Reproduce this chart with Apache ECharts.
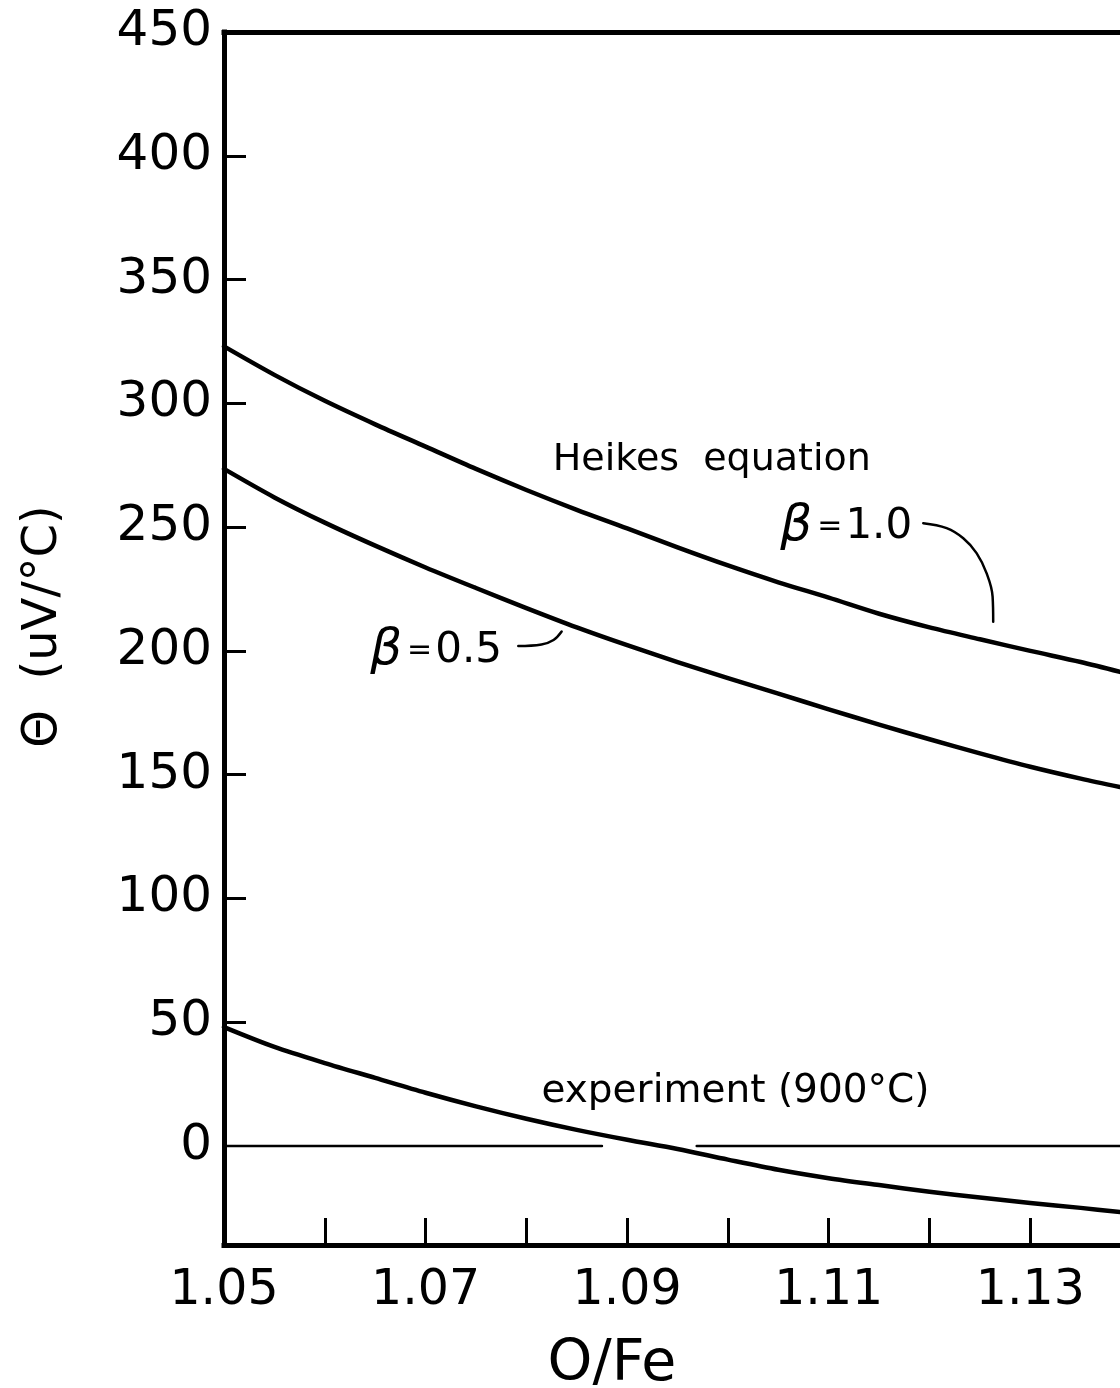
<!DOCTYPE html>
<html><head><meta charset="utf-8">
<script src="https://cdn.jsdelivr.net/npm/echarts@6/dist/echarts.min.js"></script>
<style>html,body{margin:0;padding:0;background:#fff}#c{width:1120px;height:1388px}</style>
</head><body><div id="c"></div>
<script>
// O/Fe sample positions (x)
const oFe = [1.050,1.055,1.060,1.065,1.070,1.075,1.080,1.085,1.090,1.095,1.100,1.105,1.110,1.115,1.120,1.125,1.130,1.135,1.1389];
// Heikes equation, beta = 1.0
const heikesBeta10 = [323,311.5,301,291.5,282.5,273.5,265,257,249.5,241.8,234.5,227.7,221.5,215,209.5,204.7,200,195.5,191.5];
// Heikes equation, beta = 0.5
const heikesBeta05 = [273.5,262,251.8,242.5,233.7,225.4,217.3,209.5,202.3,195.5,189,182.7,176.4,170.2,164.3,158.6,153.2,148.4,145];
// experiment (900 C)
const experiment900 = [48,40,33.5,27.5,21.5,16,11,6.5,2.5,-1.2,-5.5,-9.6,-13,-15.8,-18.5,-20.8,-23,-25,-26.7];
// zero reference line segments (broken where the experiment curve crosses)
const zeroLineX = [1.05,1.0875,null,1.0969,1.1389];
// leader lines for beta labels (data coordinates)
const leader10X = [1.11938,1.1217,1.12335,1.12467,1.12566,1.12626,1.12632];
const leader10Y = [251.6,249.6,245.5,239.5,231.4,221.9,211.8];
const leader05X = [1.0792,1.0815,1.0827,1.0835];
const leader05Y = [202.0,202.6,204.4,207.8];
// axis ticks and labels
const yLabelValues = [0,50,100,150,200,250,300,350,400,450];
const yTickValues = [50,100,150,200,250,300,350,400];
const xLabelValues = [1.05,1.07,1.09,1.11,1.13];
const xTickValues = [1.06,1.07,1.08,1.09,1.10,1.11,1.12,1.13];
const X_MIN = 1.05, X_MAX = 1.1389, Y_MIN = -40, Y_MAX = 450;

const FONT = 'DejaVu Sans';
const pairs = (xs, ys) => xs.map((x, i) => x === null ? null : [x, ys[i]]);

const chart = echarts.init(document.getElementById('c'), null, {renderer: 'canvas'});
const lineS = (data, w, smooth) => ({
  type: 'line', data, showSymbol: false, smooth: smooth,
  lineStyle: {color: '#000', width: w, cap: 'round', join: 'round'},
  connectNulls: false, silent: true, animation: false, z: 3
});
chart.setOption({
  animation: false,
  backgroundColor: '#fff',
  grid: {left: 224, right: 0, top: 32, bottom: 143, containLabel: false, outerBoundsMode: 'none'},
  xAxis: [{
    type: 'value', min: X_MIN, max: X_MAX,
    name: 'O/Fe', nameLocation: 'middle', nameGap: 92,
    nameTextStyle: {fontFamily: FONT, fontSize: 57, color: '#000', padding: [0, 120, 0, 0]},
    axisLine: {show: true, onZero: false, lineStyle: {color: '#000', width: 5, cap: 'square'}},
    axisTick: {show: true, inside: true, length: 27, customValues: xTickValues, lineStyle: {color: '#000', width: 3}},
    axisLabel: {show: true, customValues: xLabelValues, margin: 22, fontFamily: FONT, fontSize: 49, color: '#000',
      formatter: v => v.toFixed(2)},
    splitLine: {show: false}
  }, {
    type: 'value', min: X_MIN, max: X_MAX, position: 'top',
    axisLine: {show: true, onZero: false, lineStyle: {color: '#000', width: 5, cap: 'square'}},
    axisTick: {show: false}, axisLabel: {show: false}, splitLine: {show: false}
  }],
  yAxis: {
    type: 'value', min: Y_MIN, max: Y_MAX,
    name: 'Θ  (uV/°C)', nameLocation: 'middle', nameGap: 156, nameRotate: 90,
    nameTextStyle: {fontFamily: FONT, fontSize: 48, color: '#000', padding: [0, 0, 0, 24]},
    axisLine: {show: true, onZero: false, lineStyle: {color: '#000', width: 5, cap: 'square'}},
    axisTick: {show: true, inside: true, length: 22, customValues: yTickValues, lineStyle: {color: '#000', width: 3}},
    axisLabel: {show: true, customValues: yLabelValues, margin: 12, fontFamily: FONT, fontSize: 50, color: '#000'},
    splitLine: {show: false}
  },
  series: [
    lineS(pairs(oFe, heikesBeta10), 4.5, 0.3),
    lineS(pairs(oFe, heikesBeta05), 4.5, 0.3),
    lineS(pairs(oFe, experiment900), 4.5, 0.3),
    lineS(pairs(zeroLineX, zeroLineX.map(() => 0)), 2.5, false),
    lineS(pairs(leader10X, leader10Y), 2.5, 0.4),
    lineS(pairs(leader05X, leader05Y), 2.5, 0.4)
  ]
});

// text annotations anchored in data coordinates
const px = (x, y) => chart.convertToPixel({gridIndex: 0}, [x, y]);
const heikesPos = px(1.0984, 277);
const expPos = px(1.0815, 22);
const b10Pos = px(1.1052, 250);
const b05Pos = px(1.0645, 200);
const betaRich = {
  b: {fontFamily: FONT, fontSize: 50, fontStyle: 'italic', fill: '#000', verticalAlign: 'middle', lineHeight: 54},
  e: {fontFamily: FONT, fontSize: 30, fill: '#000', verticalAlign: 'middle', lineHeight: 54, padding: [0, 3, 0, 5]},
  n: {fontFamily: FONT, fontSize: 42, fill: '#000', verticalAlign: 'middle', lineHeight: 54}
};
chart.setOption({
  graphic: [
    {type: 'text', x: heikesPos[0], y: heikesPos[1], style: {text: 'Heikes  equation', fontFamily: FONT, fontSize: 38, fill: '#000', align: 'center', verticalAlign: 'middle'}},
    {type: 'text', x: expPos[0], y: expPos[1], style: {text: 'experiment (900°C)', fontFamily: FONT, fontSize: 39, fill: '#000', align: 'left', verticalAlign: 'middle'}},
    {type: 'text', x: b10Pos[0], y: b10Pos[1], style: {text: '{b|β}{e|=}{n|1.0}', rich: betaRich, align: 'left', verticalAlign: 'middle'}},
    {type: 'text', x: b05Pos[0], y: b05Pos[1], style: {text: '{b|β}{e|=}{n|0.5}', rich: betaRich, align: 'left', verticalAlign: 'middle'}}
  ]
});
</script></body></html>
